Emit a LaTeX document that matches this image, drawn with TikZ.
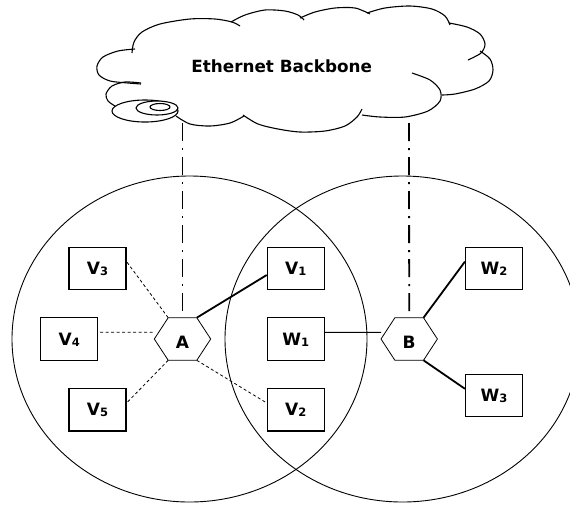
\documentclass[tikz,border=0pt]{standalone}
\usepackage{fontspec}
\setmainfont{DejaVu Sans}
\usetikzlibrary{calc}
\newcommand\subd[1]{\raisebox{-1pt}{\fontsize{11.5}{11.5}\selectfont #1}}
\newcommand\drawhex[1]{\draw[hexline] (#1.west) -- ($(#1.north west)+(13.9,0)$) -- ($(#1.north east)+(-13.9,0)$) -- (#1.east) -- ($(#1.south east)+(-13.9,0)$) -- ($(#1.south west)+(13.9,0)$) -- cycle;}
\begin{document}
\begin{tikzpicture}[x=1pt,y=-1pt,
  every node/.style={font=\fontsize{17}{20}\selectfont\bfseries},
  box/.style={draw, line width=1.1pt, minimum width=57pt, minimum height=42.5pt, inner sep=0pt, text height=12.4pt, text depth=0pt},
  hexnode/.style={minimum width=56.4pt, minimum height=42.6pt, inner sep=0pt, outer sep=0pt, text height=19.4pt, text depth=0pt},
  hexline/.style={line width=0.8pt},
  ring/.style={line width=0.9pt},
  cloudline/.style={line width=1.1pt},
  dotted link/.style={line width=0.8pt, dash pattern=on 3pt off 2.5pt},
  solid link/.style={line width=1.8pt},
  thin link/.style={line width=1pt},
  dashdot link/.style={line width=1.8pt, dash pattern=on 18pt off 7pt on 2pt off 7pt}
]
\useasboundingbox (0,0) rectangle (570,504);
\clip (0,0) rectangle (570,504);

% coverage areas
\draw[ring] (189.5,339) ellipse [x radius=177.5pt, y radius=163pt];
\draw[ring] (402.5,339) ellipse [x radius=177.5pt, y radius=163pt];

% cloud
\draw[cloudline] plot[smooth] coordinates {(135,49) (118,51) (103,57) (97,66) (99,75) (110,81) (128,83) (141,84)};
\draw[cloudline] plot[smooth] coordinates {(141,83) (125,82) (112,86) (106,94) (108,101) (115,106)};
\draw[cloudline] plot[smooth] coordinates {(132,53) (134,42) (142,32) (160,24) (190,19) (215,19) (232,22) (240,26)};
\draw[cloudline] plot[smooth] coordinates {(231,22) (245,15) (265,10) (285,11) (298,15) (304,20)};
\draw[cloudline] plot[smooth] coordinates {(300,18) (315,12) (335,8) (355,8) (370,14)};
\draw[cloudline] plot[smooth] coordinates {(367,13) (385,8) (410,6) (432,9) (445,16) (450,25)};
\draw[cloudline] plot[smooth] coordinates {(449,23) (467,27) (480,34) (485,44) (481,53) (468,60)};
\draw[cloudline] plot[smooth] coordinates {(480,51) (490,59) (493,70) (489,81) (475,89) (455,94) (442,95)};
\draw[cloudline] plot[smooth] coordinates {(412,73) (430,80) (440,90) (440,101) (428,111) (405,117) (380,117) (362,115)};
\draw[cloudline] plot[smooth] coordinates {(362,109) (357,117) (345,126) (325,131) (300,132) (278,129) (258,124) (243,115)};
\draw[cloudline] plot[smooth] coordinates {(176,116) (190,124) (210,126) (230,123) (244,116)};
\draw[cloudline, fill=white] (145,111) ellipse [x radius=33pt, y radius=11pt];
\draw[cloudline, fill=white] (157,108) ellipse [x radius=21pt, y radius=7pt];
\draw[cloudline, fill=white] (160,107) ellipse [x radius=10pt, y radius=3.5pt];
\node[anchor=base, font=\fontsize{16.8}{20}\selectfont\bfseries] (eth) at (281.7,72) {Ethernet Backbone};
\coordinate (ta) at (182.5,123);
\coordinate (tb) at (409,123);

% hubs
\node[hexnode] (A) at (182.5,339) {A};
\node[hexnode] (B) at (409.2,339) {B};
\drawhex{A}
\drawhex{B}

% stations
\node[box] (V3) at (97.5,268.3) {V\subd{3}};
\node[box] (V4) at (69.2,339) {V\subd{4}};
\node[box] (V5) at (97.5,409.7) {V\subd{5}};
\node[box] (V1) at (295.8,268.3) {V\subd{1}};
\node[box] (W1) at (295.8,339) {W\subd{1}};
\node[box] (V2) at (295.8,409.7) {V\subd{2}};
\node[box] (W2) at (494,268.3) {W\subd{2}};
\node[box] (W3) at (494,395.5) {W\subd{3}};

% links
\draw[dashdot link] (ta) -- (A.north);
\draw[dashdot link] (tb) -- (B.north);
\draw[dotted link] ($(A.north west)+(13.9,0)$) -- (V3.13);
\draw[dotted link] ($(A.west)+(-1.6,-6.7)$) -- (V4.13);
\draw[dotted link] ($(A.south west)+(13.9,0)$) -- (V5.13);
\draw[dotted link] ($(A.south east)+(-13.9,0)$) -- (V2.167);
\draw[solid link] ($(A.north east)+(-13.9,0)$) -- (V1.193);
\draw[thin link] (W1.13) -- ($(B.west)+(0,-6.7)$);
\draw[solid link] ($(B.north east)+(-13.9,0)$) -- (W2.167);
\draw[solid link] ($(B.south east)+(-13.9,0)$) -- (W3.167);
\end{tikzpicture}
\end{document}
